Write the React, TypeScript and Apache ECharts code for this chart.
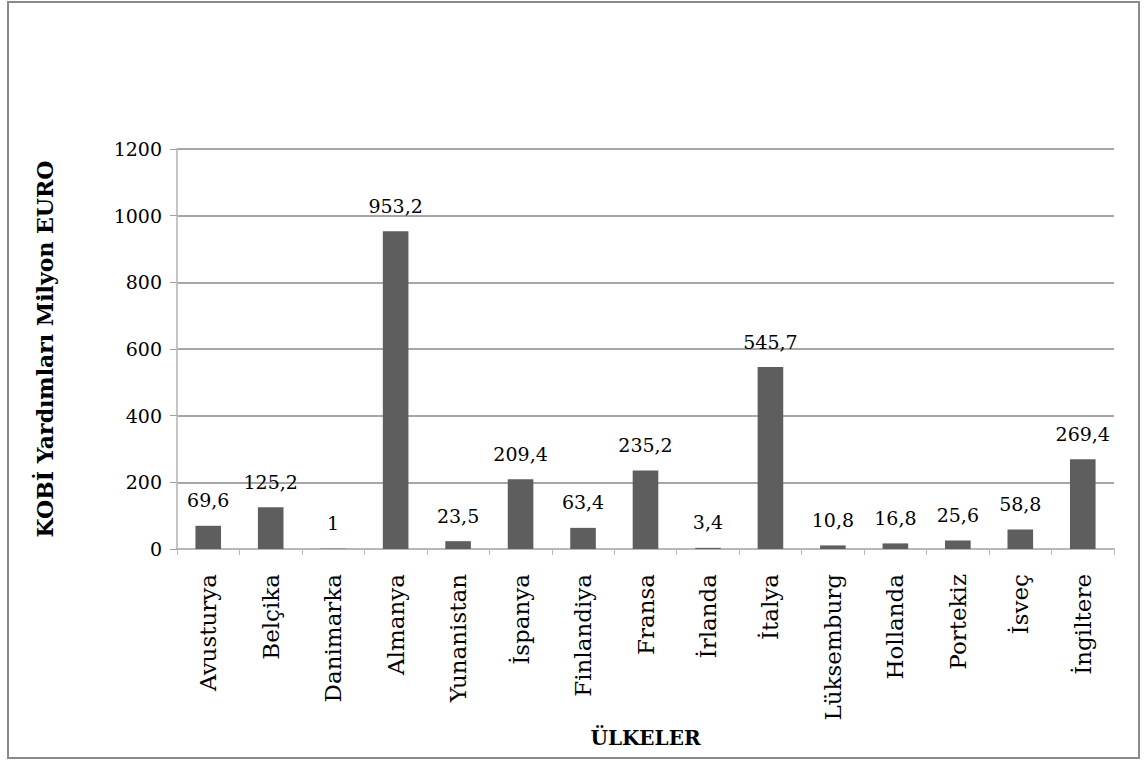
import React, { useEffect, useRef } from "react";
import * as echarts from "echarts";

const categories = [
  "Avusturya", "Belçika", "Danimarka", "Almanya", "Yunanistan", "İspanya",
  "Finlandiya", "Fransa", "İrlanda", "İtalya", "Lüksemburg", "Hollanda",
  "Portekiz", "İsveç", "İngiltere",
];
const values = [69.6, 125.2, 1, 953.2, 23.5, 209.4, 63.4, 235.2, 3.4, 545.7, 10.8, 16.8, 25.6, 58.8, 269.4];
const yTitle = "KOBİ Yardımları Milyon EURO";
const xTitle = "ÜLKELER";

const FONT = "'DejaVu Serif', 'Liberation Serif', serif";

export default function App() {
  const ref = useRef<HTMLDivElement>(null);
  useEffect(() => {
    document.body.style.margin = "0";
    const chart = echarts.init(ref.current!, null, { renderer: "svg" });
    chart.setOption({
      animation: false,
      backgroundColor: "#ffffff",
      textStyle: { fontFamily: FONT },
      graphic: [
        {
          type: "rect",
          shape: { x: 8, y: 2, width: 1131, height: 756 },
          style: { fill: "none", stroke: "#8a8a8a", lineWidth: 2 },
          silent: true,
        },
      ],
      grid: { left: 177, right: 31, top: 149, bottom: 211 },
      xAxis: {
        type: "category",
        data: categories,
        name: xTitle,
        nameLocation: "middle",
        nameGap: 174,
        nameTextStyle: { fontFamily: FONT, fontSize: 20, fontWeight: "bold", color: "#000" },
        axisLine: { lineStyle: { color: "#b8b8b8", width: 2 } },
        axisTick: { show: true, length: 6, lineStyle: { color: "#b8b8b8", width: 1 } },
        axisLabel: { rotate: 90, margin: 25, fontFamily: FONT, fontSize: 23, color: "#000", interval: 0 },
      },
      yAxis: {
        type: "value",
        min: 0,
        max: 1200,
        interval: 200,
        name: yTitle,
        nameLocation: "middle",
        nameGap: 121,
        nameTextStyle: { fontFamily: FONT, fontSize: 22, fontWeight: "bold", color: "#000" },
        axisLine: { show: true, lineStyle: { color: "#c4c4c4", width: 2 } },
        axisTick: { show: true, length: 7, lineStyle: { color: "#a0a0a0", width: 1 } },
        axisLabel: {
          margin: 15,
          fontFamily: FONT,
          fontSize: 19,
          color: "#000",
          formatter: (v: number) => String(v),
        },
        splitLine: { lineStyle: { color: "#a6a6a6", width: 2 } },
      },
      series: [
        {
          type: "bar",
          data: values,
          barWidth: "41%",
          itemStyle: { color: "#5e5e5e" },
          label: {
            show: true,
            position: "top",
            distance: 16,
            fontFamily: FONT,
            fontSize: 19,
            color: "#000",
            formatter: (p: any) => String(p.value).replace(".", ","),
          },
        },
      ],
    });
    return () => chart.dispose();
  }, []);
  return <div ref={ref} style={{ width: 1145, height: 760 }} />;
}
